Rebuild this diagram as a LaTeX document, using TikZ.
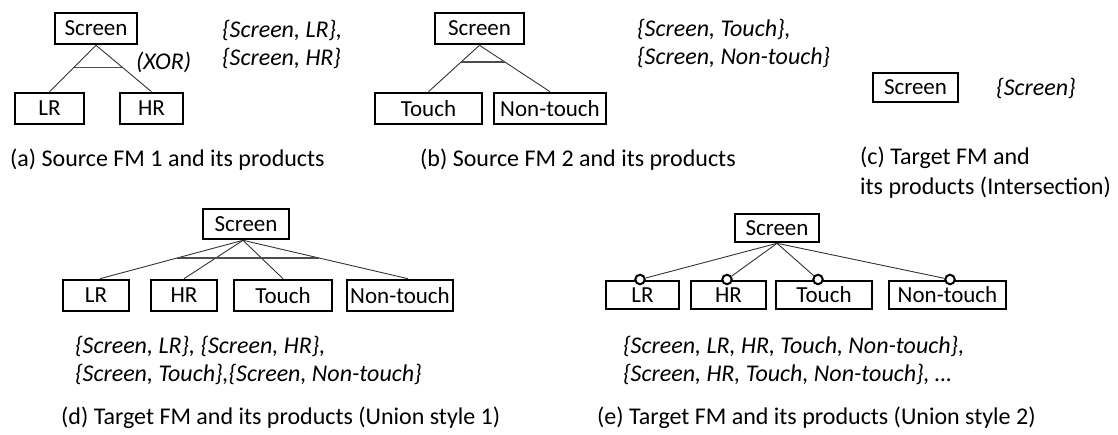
\documentclass[tikz,border=0pt]{standalone}
\usepackage{fontspec}
\setmainfont{Carlito}
\usetikzlibrary{calc}
\begin{document}
\begin{tikzpicture}[x=1pt,y=-1pt,
  fbox/.style={draw, line width=2.6pt, inner sep=0pt, font=\fontsize{23}{26}\selectfont},
  conn/.style={line width=0.9pt, draw=black!80},
  xorbar/.style={line width=1.2pt, draw=black!70},
  prod/.style={anchor=west, inner sep=0pt, align=left, font=\fontsize{24}{28}\selectfont\itshape},
  capt/.style={anchor=west, inner sep=0pt, align=left, font=\fontsize{24}{30}\selectfont},
  opt/.style={circle, draw, fill=white, line width=2pt, minimum size=9.5pt, inner sep=0pt}]
\useasboundingbox (0,0) rectangle (1118,435);
% (a)
\node[fbox, minimum width=82pt, minimum height=31pt] (a0) at (96,28.5) {Screen};
\node[fbox, minimum width=69pt, minimum height=31pt] (a1) at (49.5,108.5) {LR};
\node[fbox, minimum width=63pt, minimum height=31pt] (a2) at (151.5,108.5) {HR};
\draw[conn] (a0.south) -- (a1.north);
\draw[conn] (a0.south) -- (a2.north);
\draw[xorbar] ($(a0.south)!0.47!(a1.north)$) -- ($(a0.south)!0.47!(a2.north)$);
\node[prod] (xor) at (136,62) {(XOR)};
\node[prod] (pa) at (222,44) {\{Screen, LR\},\\\{Screen, HR\}};
\node[capt] (ca) at (10,160) {(a) Source FM 1 and its products};
% (b)
\node[fbox, minimum width=89pt, minimum height=31pt] (b0) at (479.5,28.5) {Screen};
\node[fbox, minimum width=107pt, minimum height=31pt] (b1) at (428.5,108.5) {Touch};
\node[fbox, minimum width=112pt, minimum height=31pt] (b2) at (550,108.5) {Non-touch};
\draw[conn] (b0.south) -- (b1.north);
\draw[conn] (b0.south) -- (b2.north);
\draw[xorbar] ($(b0.south)!0.36!(b1.north)$) -- ($(b0.south)!0.36!(b2.north)$);
\node[prod] (pb) at (637,43) {\{Screen, Touch\},\\\{Screen, Non-touch\}};
\node[capt] (cb) at (420,160) {(b) Source FM 2 and its products};
% (c)
\node[fbox, minimum width=85pt, minimum height=29pt] (c0) at (915.5,87.5) {Screen};
\node[prod] (pc) at (996,88) {\{Screen\}};
\node[capt] (cc) at (860,173) {(c) Target FM and\\its products (Intersection)};
% (d)
\node[fbox, minimum width=86pt, minimum height=30pt] (d0) at (246,224) {Screen};
\node[fbox, minimum width=66pt, minimum height=31pt] (d1) at (96,295.5) {LR};
\node[fbox, minimum width=66pt, minimum height=31pt] (d2) at (184,295.5) {HR};
\node[fbox, minimum width=98pt, minimum height=31pt] (d3) at (283,295.5) {Touch};
\node[fbox, minimum width=106pt, minimum height=31pt] (d4) at (400,295.5) {Non-touch};
\coordinate (d1t) at ([xshift=4pt]d1.north);
\coordinate (d4t) at ([xshift=8pt]d4.north);
\draw[conn] ([xshift=-3pt]d0.south) -- (d1t);
\draw[conn] ([xshift=-3pt]d0.south) -- (d2.north);
\draw[conn] ([xshift=-3pt]d0.south) -- (d3.north);
\draw[conn] ([xshift=-3pt]d0.south) -- (d4t);
\draw[xorbar] ($([xshift=-3pt]d0.south)!0.46!(d1t)$) -- ($([xshift=-3pt]d0.south)!0.46!(d4t)$);
\node[prod] (pd) at (75,360.5) {\{Screen, LR\}, \{Screen, HR\},\\\{Screen, Touch\},\{Screen, Non-touch\}};
\node[capt] (cd) at (61,418) {(d) Target FM and its products (Union style 1)};
% (e)
\node[fbox, minimum width=84pt, minimum height=28pt] (e0) at (777,228) {Screen};
\node[fbox, minimum width=73pt, minimum height=28pt] (e1) at (642.5,295) {LR};
\node[fbox, minimum width=75pt, minimum height=28pt] (e2) at (728.5,295) {HR};
\node[fbox, minimum width=96pt, minimum height=28pt] (e3) at (824,295) {Touch};
\node[fbox, minimum width=117pt, minimum height=28pt] (e4) at (947.5,295) {Non-touch};
\node[opt] (o1) at (640,279.5) {};
\node[opt] (o2) at (727,279.5) {};
\node[opt] (o3) at (818,279.5) {};
\node[opt] (o4) at (950,279.5) {};
\draw[conn] (e0.south) -- (o1);
\draw[conn] (e0.south) -- (o2);
\draw[conn] (e0.south) -- (o3);
\draw[conn] (e0.south) -- (o4);
\node[prod] (pe) at (623,360.5) {\{Screen, LR, HR, Touch, Non-touch\},\\\{Screen, HR, Touch, Non-touch\}, \dots};
\node[capt] (ce) at (597,418) {(e) Target FM and its products (Union style 2)};
\end{tikzpicture}
\end{document}
